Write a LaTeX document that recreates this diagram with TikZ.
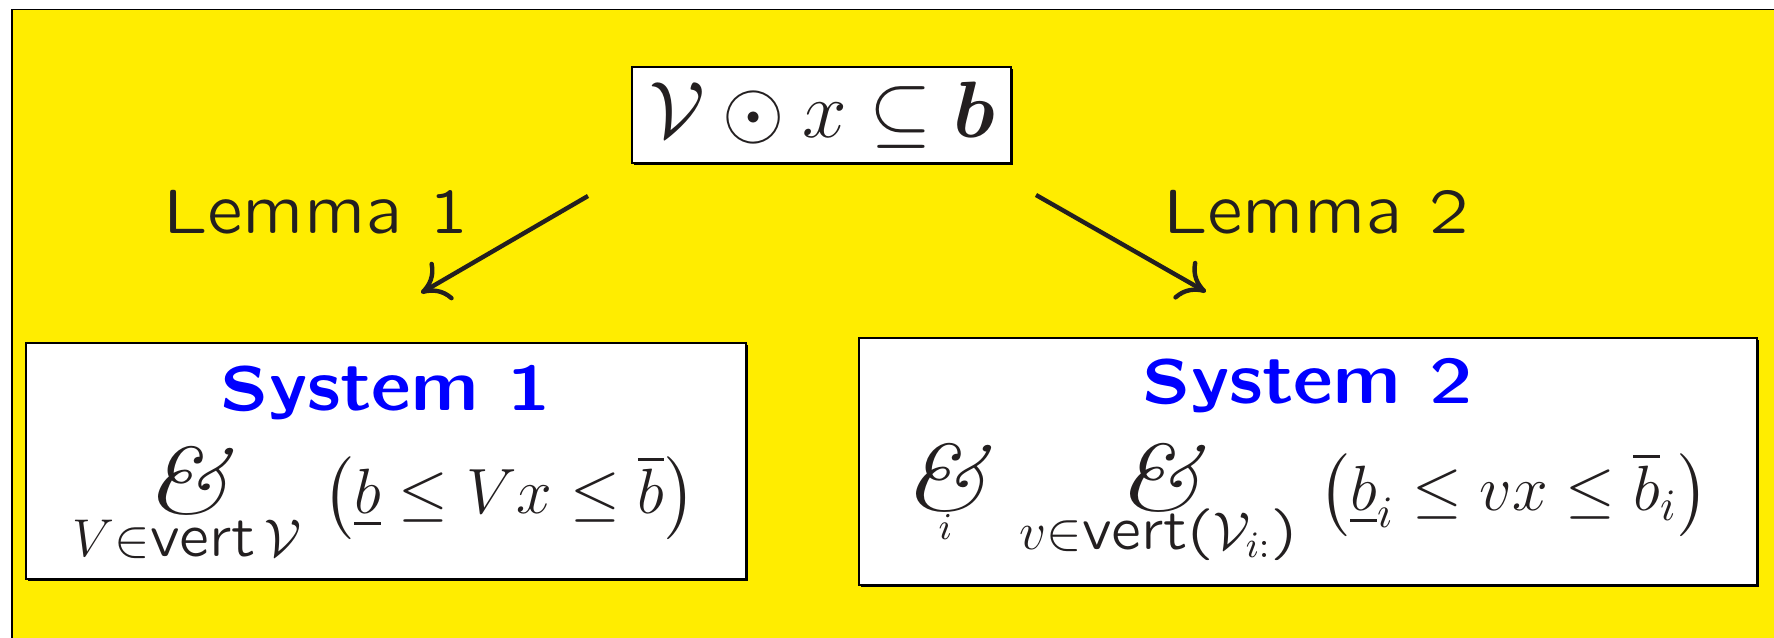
\RequirePackage{fix-cm}
\documentclass[tikz,border=0pt]{standalone}
\usepackage{amsmath}
\usepackage{graphicx}
\usepackage{fontspec}
\IfFontExistsTF{lmsansquot8-regular.otf}
  {\newfontfamily\qs{lmsansquot8}[Extension=.otf,UprightFont=*-regular,BoldFont=*-bold]}
  {\newcommand{\qs}{\sffamily}}
\usetikzlibrary{arrows.meta,shadows}
\definecolor{yel}{RGB}{255,237,0}
\definecolor{ink}{RGB}{35,31,32}
\definecolor{sysblue}{RGB}{0,0,255}
\newcommand{\bigamp}{\scalebox{1.2}[1]{\fontsize{23.5}{26}\selectfont\itshape\&}}
\newcommand{\opstack}[2]{\mathop{\vtop{\baselineskip=#2\lineskiplimit=-\maxdimen\lineskip=0pt\halign{\hfil##\hfil\cr\bigamp\cr #1\cr}}}}
\tikzset{
  box/.style={draw=black, line width=0.35pt, fill=white, inner sep=0pt,
    drop shadow={opacity=1, fill=black, shadow xshift=0.4pt, shadow yshift=-0.4pt}},
  txt/.style={inner sep=0pt, anchor=base, text=ink},
  lemtxt/.style={txt, font=\qs\fontsize{15.8}{19}\selectfont},
  systitle/.style={inner sep=0pt, anchor=base, text=sysblue, font=\qs\bfseries\fontsize{15.8}{19}\selectfont},
  arr/.style={draw=ink, line width=1.1pt, -{Computer Modern Rightarrow[length=6.5pt,width=11pt]}}
}
\begin{document}
\begin{tikzpicture}[x=0.25pt, y=-0.25pt]
\useasboundingbox (0,0) rectangle (1774,638);
% background
\fill[yel] (12,9.5) rectangle (1800,670);
\draw[line width=0.35pt] (12,670) -- (12,9.5) -- (1800,9.5);
% boxes
\node[box, minimum width=94.75pt, minimum height=24pt] (top) at (821.5,115) {};
\node[box, minimum width=180pt, minimum height=59pt] (sys1) at (386,461) {};
\node[box, minimum width=224.5pt, minimum height=61.75pt] (sys2) at (1308,461.5) {};
% top formula
\node[txt, font=\fontsize{20}{24}\selectfont] (topf) at (822.5,138)
  {$\mathcal{V}\odot x\subseteq\boldsymbol{b}$};
% lemma labels
\node[lemtxt] (lem1) at (316,234) {Lemma 1};
\node[lemtxt] (lem2) at (1316,234) {Lemma 2};
% titles
\node[systitle] (t1) at (386,411) {System 1};
\node[systitle] (t2) at (1308,404) {System 2};
% formulas
\node[txt, font=\fontsize{16}{19}\selectfont] (f1) at (384.5,514)
  {$\opstack{{\fontsize{13.3}{16}\selectfont$V\mathord{\in}\text{\qs vert}\,\mathcal{V}$}}{10.75pt}\mkern6mu\bigl(\underline{b}\le Vx\le\overline{b}\bigr)$};
\node[txt, font=\fontsize{16}{19}\selectfont] (f2) at (1306,511)
  {$\opstack{{\fontsize{9.5}{11}\selectfont$i$}}{7.25pt}\mkern6mu\opstack{{\fontsize{13.3}{16}\selectfont$v\mathord{\in}\text{\qs vert(}\mathcal{V}_{i:}\text{\qs )}$}}{9.75pt}\mkern6mu\bigl(\underline{b}_i\le vx\le\overline{b}_i\bigr)$};
% arrows
\coordinate (a1s) at (588,196);
\coordinate (a1e) at (421,293);
\coordinate (a2s) at (1036,195);
\coordinate (a2e) at (1206,292);
\draw[arr] (a1s) -- (a1e);
\draw[arr] (a2s) -- (a2e);
\end{tikzpicture}
\end{document}
